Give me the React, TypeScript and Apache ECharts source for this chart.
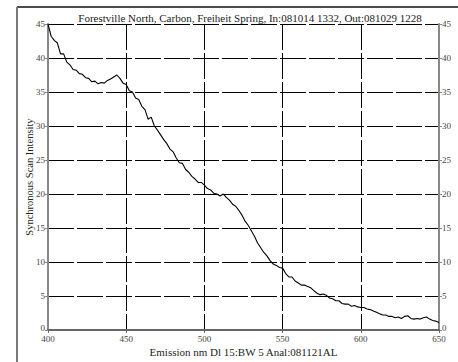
import React, { useEffect, useRef } from "react";
import * as echarts from "echarts";

const title = "Forestville North, Carbon, Freiheit Spring, In:081014 1332, Out:081029 1228";
const xTitle = "Emission nm Dl 15:BW 5 Anal:081121AL";
const yTitle = "Synchronous Scan Intensity";

const wavelengthStart = 400;
const wavelengthStep = 2;
const intensity = [
  45.0, 43.2, 42.6, 42.2, 40.6, 40.6, 39.4, 39.0, 38.3, 38.2,
  37.7, 37.6, 37.1, 37.0, 36.5, 36.6, 36.2, 36.4, 36.3, 36.7,
  36.9, 37.2, 37.5, 37.0, 36.3, 36.1, 35.2, 35.0, 34.1, 33.9,
  32.9, 32.4, 31.0, 31.3, 30.0, 29.4, 28.7, 28.0, 27.4, 26.6,
  26.2, 25.3, 24.6, 24.5, 23.6, 23.2, 22.6, 22.2, 21.7, 21.7,
  21.3, 20.8, 20.6, 20.1, 20.0, 19.7, 20.0, 19.5, 19.1, 18.5,
  18.2, 17.6, 16.9, 16.0, 15.4, 14.6, 13.8, 12.8, 12.1, 11.4,
  10.9, 10.2, 9.7, 9.5, 9.2, 9.1, 8.3, 7.8, 7.8, 7.2,
  6.9, 6.6, 6.6, 6.4, 6.2, 5.8, 5.4, 5.2, 5.3, 5.1,
  4.7, 4.6, 4.3, 4.3, 3.9, 3.8, 3.8, 3.5, 3.6, 3.4,
  3.3, 3.3, 3.1, 3.0, 2.8, 2.6, 2.4, 2.2, 2.2, 2.0,
  2.0, 1.8, 1.9, 1.7, 2.0, 2.1, 1.7, 1.6, 1.7, 1.6,
  1.8, 1.9, 1.6, 1.4, 1.3, 1.1,
];

export default function App() {
  const ref = useRef<HTMLDivElement>(null);
  useEffect(() => {
    if (!ref.current) return;
    const chart = echarts.init(ref.current, undefined, { renderer: "svg" });
    const data = intensity.map((v, i) => [wavelengthStart + i * wavelengthStep, v]);
    const font = "Liberation Serif";
    const labelStyle = { fontFamily: font, fontSize: 9, color: "#444" };
    const gridLine = { show: true, lineStyle: { color: "#000", width: 1, type: [26, 3] as any } };
    const yLabel = {
      ...labelStyle,
      margin: 3,
      formatter: (v: number) => (v === 0 ? "{z|0}" : String(v)),
      rich: { z: { ...labelStyle, padding: [0, 0, 4, 0] } },
    };
    const yAxisBase = {
      type: "value" as const,
      min: 0,
      max: 45,
      interval: 5,
      axisLine: { show: true, lineStyle: { color: "#888", width: 2 } },
      axisTick: { show: true, length: 3, lineStyle: { color: "#888" } },
      axisLabel: yLabel,
    };
    chart.setOption({
      animation: false,
      backgroundColor: "#fff",
      title: {
        text: title,
        left: 245,
        textAlign: "center",
        top: 7,
        textStyle: { fontFamily: font, fontSize: 11, fontWeight: "normal", color: "#222" },
      },
      grid: { left: 48, right: 19, top: 24, bottom: 26.5 },
      xAxis: {
        type: "value",
        min: 400,
        max: 650,
        interval: 50,
        name: xTitle,
        nameLocation: "middle",
        nameGap: 16,
        nameMoveOverlap: false,
        nameTextStyle: { fontFamily: font, fontSize: 11, color: "#222" },
        axisLine: { show: true, onZero: false, lineStyle: { color: "#666", width: 2 } },
        axisTick: { show: true, length: 3, lineStyle: { color: "#666" } },
        axisLabel: { ...labelStyle, margin: 4 },
        splitLine: gridLine,
      },
      yAxis: [
        {
          ...yAxisBase,
          position: "left",
          name: yTitle,
          nameLocation: "middle",
          nameGap: 13,
          nameMoveOverlap: false,
          nameTextStyle: { fontFamily: font, fontSize: 10.5, color: "#222" },
          splitLine: gridLine,
        },
        {
          ...yAxisBase,
          position: "right",
          splitLine: { show: false },
        },
      ],
      graphic: [
        { type: "line", shape: { x1: 17, y1: 7, x2: 458, y2: 7 }, style: { stroke: "#111", lineWidth: 1.5 } },
        { type: "line", shape: { x1: 17, y1: 7, x2: 17, y2: 362 }, style: { stroke: "#777", lineWidth: 2 } },
      ],
      series: [
        {
          type: "line",
          data,
          yAxisIndex: 0,
          showSymbol: false,
          lineStyle: { color: "#000", width: 1.1 },
        },
      ],
    });
    return () => chart.dispose();
  }, []);
  return <div ref={ref} style={{ position: "absolute", left: 0, top: 0, width: 458, height: 362 }} />;
}
